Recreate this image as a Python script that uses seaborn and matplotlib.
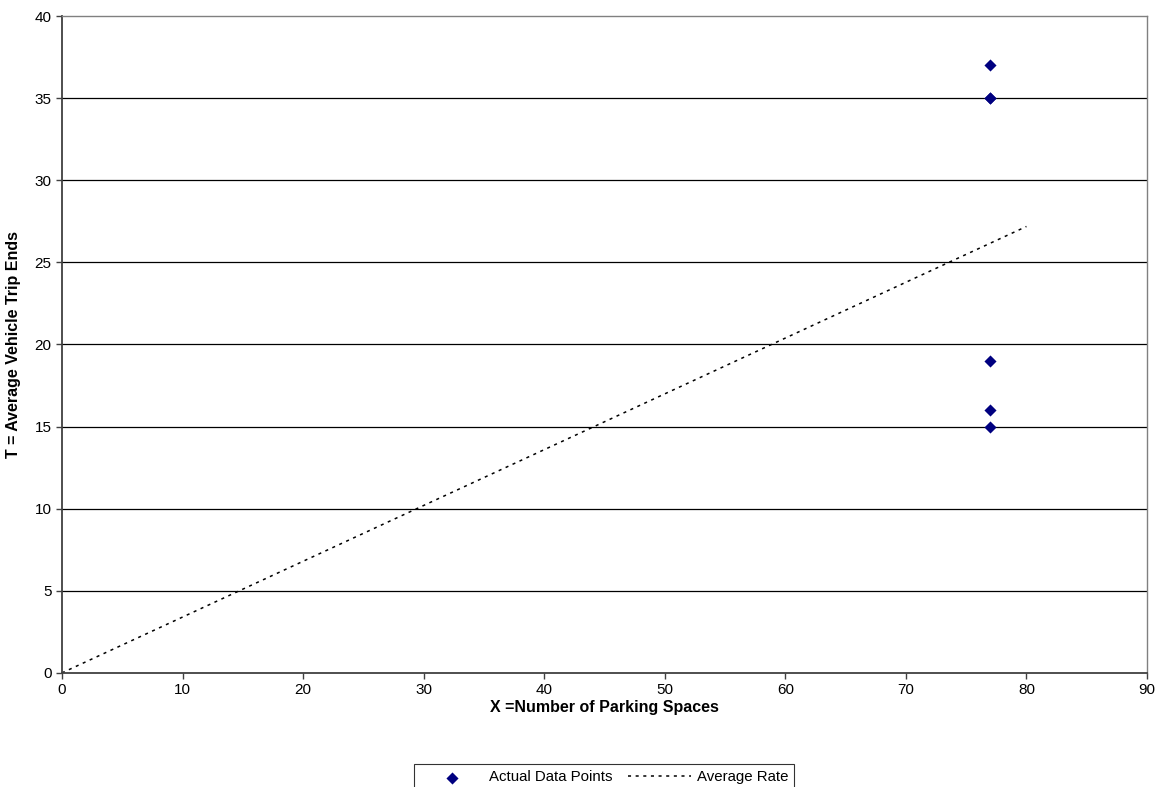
import numpy as np
import pandas as pd
import matplotlib
matplotlib.use('Agg')
import matplotlib.pyplot as plt
import seaborn as sns

# actual data points (several sites, all 77 spaces)
spaces = [77, 77, 77, 77, 77, 77]
trips = [37, 35, 35, 19, 16, 15]

# average rate line
rate_x = [0, 80]

df = pd.DataFrame({'X': spaces, 'T': trips})
rate = np.sum(trips) / np.sum(spaces)
line_df = pd.DataFrame({'X': rate_x, 'T': [v * rate for v in rate_x]})

sns.set_style('white')
plt.rcParams['font.family'] = ['Liberation Sans', 'DejaVu Sans']
plt.rcParams['text.color'] = 'black'
plt.rcParams['axes.labelcolor'] = 'black'
plt.rcParams['xtick.color'] = 'black'
plt.rcParams['ytick.color'] = 'black'

fig = plt.figure(figsize=(11.6, 7.87), dpi=100)
ax = fig.add_axes([0.0534, 0.145, 0.9354, 0.8346])

for yv in range(5, 40, 5):
    ax.axhline(yv, color='black', linewidth=0.9, zorder=1)

sns.scatterplot(data=df, x='X', y='T', ax=ax, marker='D', s=38, color='#000080',
                edgecolor='#000080', linewidth=0, label='Actual Data Points', zorder=3)
sns.lineplot(data=line_df, x='X', y='T', ax=ax, color='black', linewidth=1.1,
             linestyle=(0, (2, 3)), label='Average Rate', zorder=2)

ax.set_xlim(0, 90)
ax.set_ylim(0, 40)
ax.set_xticks(range(0, 91, 10))
ax.set_yticks(range(0, 41, 5))
ax.tick_params(axis='both', direction='out', length=4, width=1, labelsize=11,
               bottom=True, left=True, color='#404040', labelcolor='black')
for s in ['top', 'right']:
    ax.spines[s].set_color('#808080')
    ax.spines[s].set_linewidth(1)
for s in ['left', 'bottom']:
    ax.spines[s].set_color('#404040')
    ax.spines[s].set_linewidth(1.3)

ax.set_xlabel('X =Number of Parking Spaces', fontsize=11.5, fontweight='bold', labelpad=2)
ax.set_ylabel('T = Average Vehicle Trip Ends', fontsize=11.5, fontweight='bold', labelpad=10)

leg = ax.legend(loc='upper center', bbox_to_anchor=(0.5, -0.128), ncol=2, frameon=True,
                fancybox=False, edgecolor='black', fontsize=10.8, handlelength=4.2,
                columnspacing=1.0, handletextpad=0.4, borderpad=0.4)
leg.get_frame().set_linewidth(0.8)

fig.savefig('out.png', dpi=100)
